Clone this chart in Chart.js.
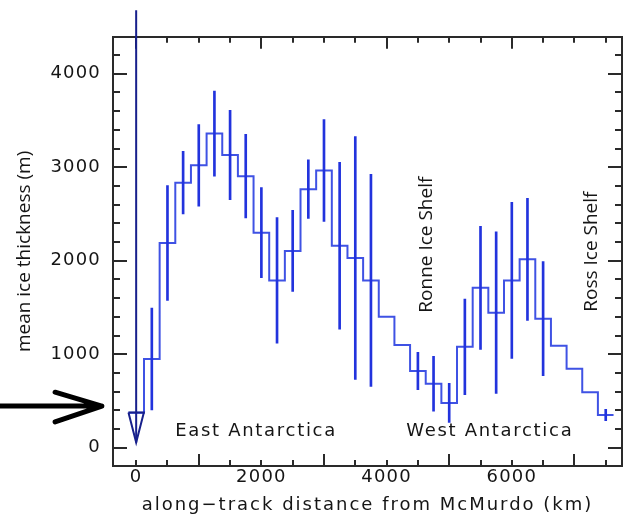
<!DOCTYPE html>
<html>
<head>
<meta charset="utf-8">
<script src="https://cdn.jsdelivr.net/npm/chart.js@4/dist/chart.umd.min.js"></script>
<style>
  html, body { margin: 0; padding: 0; background: #ffffff; }
  #wrap { width: 623px; height: 520px; }
</style>
</head>
<body>
<div id="wrap"><canvas id="profile" width="623" height="520"></canvas></div>
<script>
// Mean ice thickness along the traverse, binned every 250 km from McMurdo
const binCentersKm = [0, 250, 500, 750, 1000, 1250, 1500, 1750, 2000, 2250, 2500, 2750, 3000, 3250, 3500, 3750,
                      4000, 4250, 4500, 4750, 5000, 5250, 5500, 5750, 6000, 6250, 6500, 6750, 7000, 7250, 7500];
const meanThicknessM = [375, 950, 2190, 2835, 3020, 3360, 3130, 2905, 2300, 1790, 2105, 2765, 2965, 2160, 2030, 1790,
                        1400, 1100, 820, 685, 480, 1080, 1710, 1445, 1790, 2015, 1380, 1090, 845, 595, 350];
// one-sigma spread inside each bin (null where no bar is drawn)
const thicknessSpreadM = [null, 545, 615, 335, 435, 455, 478, 446, 482, 672, 434, 313, 545, 893, 1299, 1135,
                          null, null, 200, 294, 209, 511, 658, 864, 834, 653, 610, null, null, null, 60];
const binWidthKm = 250;

// Axis ticks
const xTickValuesKm = [0, 2000, 4000, 6000];
const yTickValuesM = [0, 1000, 2000, 3000, 4000];
const xMinorStepKm = 500;
const yMinorStepM = 200;
const xRangeKm = [-370, 7760];
const yRangeM = [-195, 4395];

// Start of the traverse at McMurdo: vertical marker ending in a hollow triangle
const startKm = 0;
const startLineTopM = 4680;
const startTriangleKm = [-123, 123, 0, -123];
const startTriangleM = [376, 376, 57, 376];

// Region and ice-shelf annotations
const regionNames = ['East Antarctica', 'West Antarctica'];
const regionKm = [623, 4313];
const regionM = [180, 180];
const shelfNames = ['Ronne Ice Shelf', 'Ross Ice Shelf'];
const shelfKm = [4633, 7268];
const shelfM = [1445, 1455];

// Pointer arrow to the left of the plot
const pointerKm = [-2200, -548];
const pointerM = 446;
const pointerHeadKm = -1295;
const pointerHeadM = [594, 276];

// ---- datasets built from the arrays above ----
const stepPoints = [];
binCentersKm.forEach((c, i) => {
  stepPoints.push({ x: c - binWidthKm / 2, y: meanThicknessM[i] });
  stepPoints.push({ x: c + binWidthKm / 2, y: meanThicknessM[i] });
});

const spreadBars = [];
binCentersKm.forEach((c, i) => {
  const s = thicknessSpreadM[i];
  if (s == null) return;
  spreadBars.push({ x: c, y: [meanThicknessM[i] - s, meanThicknessM[i] + s] });
});

const startLine = [{ x: startKm, y: startLineTopM }, { x: startKm, y: startTriangleM[2] }];
const startTriangle = startTriangleKm.map((k, i) => ({ x: k, y: startTriangleM[i] }));

const GEO_FONT = '"DejaVu Sans", sans-serif';
const HUM_FONT = '"Open Sans", "Noto Sans", sans-serif';
const INK = '#151515';
const FRAME = '#2a2a2a';

// Tick lists for the axes
const fixedTicks = (values) => (s) => { s.ticks = values.map(v => ({ value: v })); };
const steppedTicks = (step) => (s) => {
  const out = [];
  for (let v = 0; v <= s.max; v += step) out.push({ value: v });
  s.ticks = out;
};

// An unlabelled axis that only contributes inward tick marks along one side of the box
function tickSide(axis, position, weight, range, buildTicks, length, withBorder) {
  return {
    type: 'linear',
    axis,
    position,
    weight,
    min: range[0],
    max: range[1],
    offset: false,
    grid: { display: true, drawOnChartArea: false, drawTicks: true, tickLength: -length, color: FRAME, lineWidth: 2 },
    border: { display: withBorder, color: FRAME, width: 2 },
    ticks: { display: false },
    afterBuildTicks: buildTicks,
    afterFit: (s) => { if (axis === 'x') s.height = 0; else s.width = 0; }
  };
}

// Letter spacing for tick labels and the x title
const spacedText = {
  id: 'spacedText',
  beforeDraw(chart) {
    const ctx = chart.ctx;
    const wrap = (scale, name, sp) => {
      const key = '__spaced_' + name;
      if (scale[key]) return;
      const orig = scale[name];
      scale[name] = function (...args) {
        ctx.save();
        ctx.letterSpacing = sp;
        try { return orig.apply(this, args); } finally { ctx.restore(); }
      };
      scale[key] = true;
    };
    wrap(chart.scales.x, 'drawLabels', '1.2px');
    wrap(chart.scales.x, 'drawTitle', '2px');
    wrap(chart.scales.y, 'drawLabels', '1.2px');
    wrap(chart.scales.y, 'drawTitle', '0px');
  }
};

// Region names, ice-shelf names and the pointer arrow
const annotations = {
  id: 'annotations',
  afterDraw(chart) {
    const ctx = chart.ctx;
    const xs = chart.scales.x;
    const ys = chart.scales.y;
    ctx.save();
    ctx.fillStyle = INK;
    ctx.letterSpacing = '1.7px';
    ctx.font = '18px ' + GEO_FONT;
    ctx.textAlign = 'left';
    ctx.textBaseline = 'middle';
    regionNames.forEach((t, i) => {
      ctx.fillText(t, xs.getPixelForValue(regionKm[i]), ys.getPixelForValue(regionM[i]));
    });
    ctx.letterSpacing = '0px';
    ctx.font = '19px ' + HUM_FONT;
    shelfNames.forEach((t, i) => {
      ctx.save();
      ctx.translate(xs.getPixelForValue(shelfKm[i]), ys.getPixelForValue(shelfM[i]));
      ctx.rotate(-Math.PI / 2);
      ctx.textAlign = 'left';
      ctx.textBaseline = 'middle';
      ctx.fillText(t, 0, 0);
      ctx.restore();
    });
    const py = ys.getPixelForValue(pointerM);
    const tipX = xs.getPixelForValue(pointerKm[1]);
    const hx = xs.getPixelForValue(pointerHeadKm);
    ctx.strokeStyle = '#000000';
    ctx.lineWidth = 5;
    ctx.lineCap = 'round';
    ctx.lineJoin = 'round';
    ctx.beginPath();
    ctx.moveTo(xs.getPixelForValue(pointerKm[0]), py);
    ctx.lineTo(tipX, py);
    ctx.moveTo(hx, ys.getPixelForValue(pointerHeadM[0]));
    ctx.lineTo(tipX, py);
    ctx.lineTo(hx, ys.getPixelForValue(pointerHeadM[1]));
    ctx.stroke();
    ctx.restore();
  }
};

new Chart(document.getElementById('profile'), {
  type: 'line',
  data: {
    datasets: [
      {
        label: 'McMurdo',
        data: startLine,
        borderColor: '#17208c',
        borderWidth: 2,
        pointRadius: 0,
        clip: false,
        order: 0
      },
      {
        label: 'McMurdo triangle',
        data: startTriangle,
        borderColor: '#17208c',
        borderWidth: 2,
        pointRadius: 0,
        fill: false,
        clip: false,
        order: 0
      },
      {
        type: 'bar',
        label: 'spread',
        data: spreadBars,
        backgroundColor: '#2233dd',
        borderWidth: 0,
        barThickness: 2,
        order: 1
      },
      {
        label: 'mean ice thickness',
        data: stepPoints,
        borderColor: '#3f52e4',
        borderWidth: 2,
        pointRadius: 0,
        tension: 0,
        fill: false,
        order: 2
      }
    ]
  },
  options: {
    responsive: false,
    animation: false,
    devicePixelRatio: 1,
    layout: { padding: { top: 33, right: 1, left: 0, bottom: 0 } },
    plugins: { legend: { display: false }, tooltip: { enabled: false } },
    scales: {
      x: {
        type: 'linear',
        position: 'bottom',
        weight: 1,
        min: xRangeKm[0],
        max: xRangeKm[1],
        offset: false,
        grid: { display: true, drawOnChartArea: false, drawTicks: true, tickLength: -12, color: FRAME, lineWidth: 2 },
        border: { display: true, color: FRAME, width: 2 },
        afterBuildTicks: fixedTicks(xTickValuesKm),
        afterFit: (s) => { s.height = 54; },
        ticks: {
          color: INK,
          font: { family: GEO_FONT, size: 18 },
          padding: 13,
          autoSkip: false,
          maxRotation: 0,
          callback: (v) => String(v)
        },
        title: {
          display: true,
          text: 'along\u2212track distance from McMurdo (km)',
          color: INK,
          font: { family: GEO_FONT, size: 18 },
          padding: { top: 0, bottom: 4 }
        }
      },
      xMinor: tickSide('x', 'bottom', 0, xRangeKm, steppedTicks(xMinorStepKm), 6, false),
      xTop: tickSide('x', 'top', 0, xRangeKm, fixedTicks(xTickValuesKm), 12, true),
      xTopMinor: tickSide('x', 'top', 0, xRangeKm, steppedTicks(xMinorStepKm), 6, false),
      y: {
        type: 'linear',
        position: 'left',
        weight: 1,
        min: yRangeM[0],
        max: yRangeM[1],
        grid: { display: true, drawOnChartArea: false, drawTicks: true, tickLength: -14, color: FRAME, lineWidth: 2 },
        border: { display: true, color: FRAME, width: 2 },
        afterBuildTicks: fixedTicks(yTickValuesM),
        afterFit: (s) => { s.width = 113; },
        ticks: {
          color: INK,
          font: { family: GEO_FONT, size: 18 },
          padding: 26,
          autoSkip: false,
          callback: (v) => String(v)
        },
        title: {
          display: true,
          text: 'mean ice thickness (m)',
          color: INK,
          font: { family: HUM_FONT, size: 19 },
          padding: { top: 13, bottom: 0 }
        }
      },
      yMinor: tickSide('y', 'left', 0, yRangeM, steppedTicks(yMinorStepM), 7, false),
      yRight: tickSide('y', 'right', 0, yRangeM, fixedTicks(yTickValuesM), 14, true),
      yRightMinor: tickSide('y', 'right', 0, yRangeM, steppedTicks(yMinorStepM), 7, false)
    }
  },
  plugins: [spacedText, annotations]
});
</script>
</body>
</html>
